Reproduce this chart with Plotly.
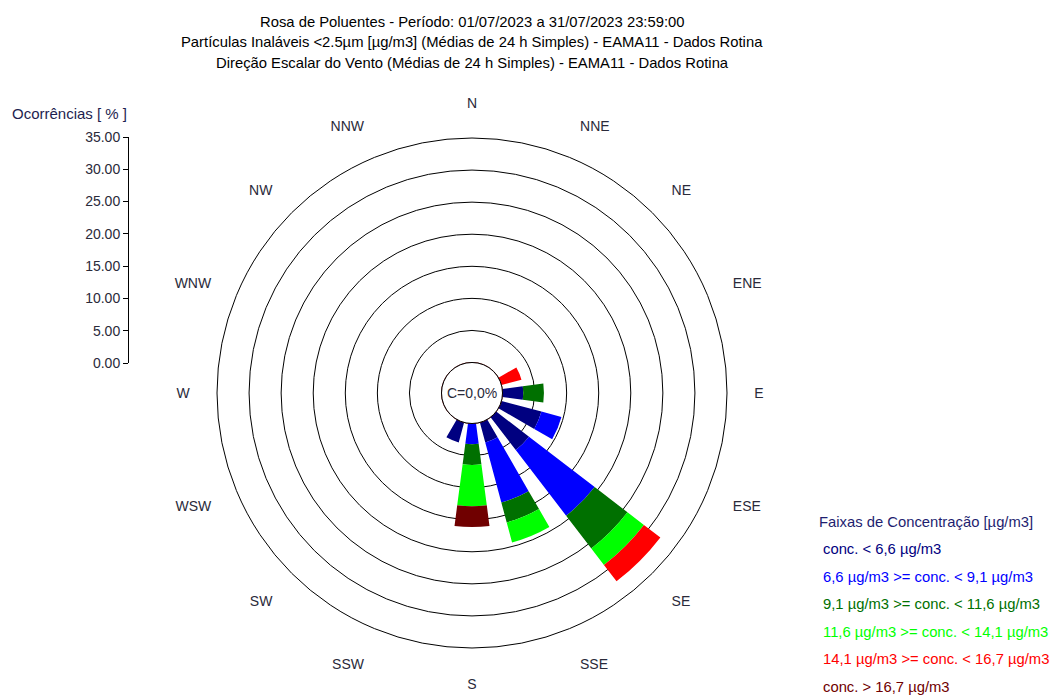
"""Rosa de poluentes - PM2.5 x direção do vento, julho/2023."""

import plotly.graph_objects as go

directions = ["N", "NNE", "NE", "ENE", "E", "ESE", "SE", "SSE",
              "S", "SSW", "SW", "WSW", "W", "WNW", "NW", "NNW"]

# ocorrências [%] por faixa de concentração (cada dia = 1/31 do mês)
conc_lt_6_6 = [0, 0, 0, 0, 3.23, 6.45, 6.45, 3.23, 0, 3.23, 0, 0, 0, 0, 0, 0]
conc_6_6_9_1 = [0, 0, 0, 0, 0, 3.23, 12.90, 9.68, 3.23, 0, 0, 0, 0, 0, 0, 0]
conc_9_1_11_6 = [0, 0, 0, 0, 3.23, 0, 6.45, 3.23, 3.23, 0, 0, 0, 0, 0, 0, 0]
conc_11_6_14_1 = [0, 0, 0, 0, 0, 0, 3.23, 3.23, 6.45, 0, 0, 0, 0, 0, 0, 0]
conc_14_1_16_7 = [0, 0, 0, 3.23, 0, 0, 3.23, 0, 0, 0, 0, 0, 0, 0, 0, 0]
conc_gt_16_7 = [0, 0, 0, 0, 0, 0, 0, 0, 3.23, 0, 0, 0, 0, 0, 0, 0]

band_labels = [
    "conc. < 6,6 µg/m3",
    "6,6 µg/m3 >= conc. < 9,1 µg/m3",
    "9,1 µg/m3 >= conc. < 11,6 µg/m3",
    "11,6 µg/m3 >= conc. < 14,1 µg/m3",
    "14,1 µg/m3 >= conc. < 16,7 µg/m3",
    "conc. > 16,7 µg/m3",
]
band_colors = ["#000080", "#0000FF", "#007000", "#00FF00", "#FF0000", "#700000"]
bands = [conc_lt_6_6, conc_6_6_9_1, conc_9_1_11_6, conc_11_6_14_1,
         conc_14_1_16_7, conc_gt_16_7]

calm_pct = 0.0
r_max = 35
title_lines = [
    "Rosa de Poluentes - Período: 01/07/2023 a 31/07/2023 23:59:00",
    "Partículas Inaláveis <2.5µm [µg/m3] (Médias de 24 h Simples) - EAMA11 - Dados Rotina",
    "Direção Escalar do Vento (Médias de 24 h Simples) - EAMA11 - Dados Rotina",
]

W, H = 1054, 695
FONT = "Liberation Sans, Arial, sans-serif"
angles = [i * 360 / len(directions) for i in range(len(directions))]

# polar domain in px (center 472,393 ; radius 255)
px0, px1 = 217, 727
py0, py1 = 138, 648
dom_x = [px0 / W, px1 / W]
dom_y = [1 - py1 / H, 1 - py0 / H]
hole_px = 30.5

fig = go.Figure()
for vals, name, color in zip(bands, band_labels, band_colors):
    fig.add_trace(go.Barpolar(
        r=vals, theta=angles, width=15, name=name,
        marker=dict(color=color, line=dict(width=0)),
        showlegend=False,
    ))

# calm circle
ring = list(range(0, 361, 3))
fig.add_trace(go.Scatterpolar(
    r=[0] * len(ring), theta=ring, mode="lines",
    line=dict(color="#800000", width=1), showlegend=False, hoverinfo="skip",
))

# left scale (Ocorrências)
fig.add_trace(go.Scatter(x=[], y=[], showlegend=False, xaxis="x", yaxis="y"))

fig.update_layout(
    width=W, height=H, autosize=False,
    margin=dict(l=0, r=0, t=0, b=0, pad=0, autoexpand=False),
    showlegend=False,
    paper_bgcolor="white", plot_bgcolor="white",
    font=dict(family=FONT, size=14, color="#222"),
    polar=dict(
        domain=dict(x=dom_x, y=dom_y),
        bgcolor="white",
        hole=hole_px / (px1 - px0) * 2,
        barmode="stack",
        radialaxis=dict(range=[0, r_max], dtick=5, showticklabels=False, ticks="",
                        showline=False, gridcolor="black", gridwidth=1),
        angularaxis=dict(
            rotation=90, direction="clockwise",
            tickmode="array", tickvals=angles, ticktext=directions,
            showgrid=False, showline=True, linecolor="black", linewidth=1,
            ticks="outside", ticklen=24, tickcolor="rgba(0,0,0,0)",
            tickfont=dict(size=14, color="#2a2a3a"),
        ),
    ),
    xaxis=dict(domain=[0, 0.01], visible=False),
    yaxis=dict(
        domain=[1 - 363 / H, 1 - 137 / H], range=[0, r_max], dtick=5,
        anchor="free", position=128 / W, tickformat=".2f",
        ticks="outside", ticklen=5, tickcolor="black",
        showline=True, linecolor="black", linewidth=1,
        showgrid=False, zeroline=False,
        tickfont=dict(size=14, color="#2a2a3a"),
    ),
)

for i, line in enumerate(title_lines):
    fig.add_annotation(text=line, x=472 / W, y=1 - (22 + 20.5 * i) / H,
                       xref="paper", yref="paper", showarrow=False,
                       xanchor="center", yanchor="middle",
                       font=dict(size=14.8, color="black"))

fig.add_annotation(text="Ocorrências [ % ]", x=10 / W, y=1 - 113 / H,
                   xref="paper", yref="paper", showarrow=False,
                   xanchor="left", yanchor="middle",
                   font=dict(size=15, color="#1e1e50"))

fig.add_annotation(text=f"C={calm_pct:.1f}%".replace(".", ","),
                   x=sum(dom_x) / 2, y=sum(dom_y) / 2,
                   xref="paper", yref="paper", showarrow=False,
                   font=dict(size=14, color="#2a2a3a"))

# legend
fig.add_annotation(text="Faixas de Concentração [µg/m3]", x=817 / W, y=1 - 522 / H,
                   xref="paper", yref="paper", showarrow=False,
                   xanchor="left", yanchor="middle",
                   font=dict(size=14.8, color="#1e1e70"))
for i, (name, color) in enumerate(zip(band_labels, band_colors)):
    fig.add_annotation(text=name, x=821 / W, y=1 - (549 + 27.5 * i) / H,
                       xref="paper", yref="paper", showarrow=False,
                       xanchor="left", yanchor="middle",
                       font=dict(size=14.8, color=color))

fig.write_html("out.html", config={"displayModeBar": False},
               post_script="document.body.style.margin='0';")
